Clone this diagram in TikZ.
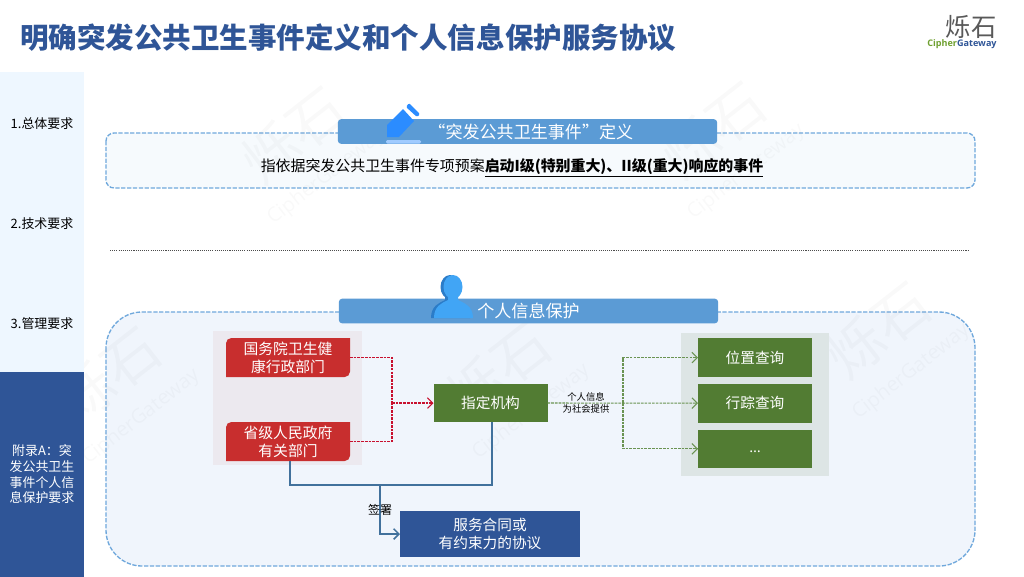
\documentclass[tikz,border=0pt]{standalone}
\usepackage{fontspec}
\setmainfont{Noto Sans CJK SC}
\newfontfamily\logofont{Open Sans}
\usepackage{xcolor}
\usepackage{tikz}
\usetikzlibrary{arrows.meta,positioning}
\definecolor{titleblue}{HTML}{2F5597}
\definecolor{barblue}{HTML}{5B9BD5}
\definecolor{dashblue}{HTML}{6FA8DC}
\definecolor{sidefill}{HTML}{EEF7FF}
\definecolor{panelfill}{HTML}{F6FAFD}
\definecolor{panelfillalt}{HTML}{F0F5FC}
\definecolor{redfill}{HTML}{C82E2E}
\definecolor{greenfill}{HTML}{527C33}
\definecolor{linkblue}{HTML}{41719C}
\definecolor{linkred}{HTML}{C8102E}
\definecolor{linkgreen}{HTML}{6A9352}
\definecolor{iconblue}{HTML}{2B8CFF}
\definecolor{personblue}{HTML}{41A5F5}
\definecolor{persondark}{HTML}{2B7CC8}
\definecolor{groupred}{HTML}{ECE9EF}
\definecolor{groupgreen}{HTML}{DDE5E5}
\definecolor{logogreen}{HTML}{6FA030}

\begin{document}
\begin{tikzpicture}[x=0.75pt, y=-0.75pt,
  every node/.style={inner sep=0pt, outer sep=0pt},
  sideitem/.style={minimum width=62.5pt, minimum height=75pt, align=center, fill=sidefill, font=\fontsize{9.7}{11.8}\selectfont},
  sidecap/.style={sideitem, text height=9pt, text depth=0pt},
  panelbox/.style={draw=dashblue, line width=1pt, dash pattern=on 3.2pt off 1.2pt},
  headbar/.style={fill=barblue, rounded corners=2.5pt, minimum width=284.5pt, minimum height=18.5pt, text=white, font=\fontsize{12.8}{14}\selectfont},
  redbox/.style={minimum width=93pt, minimum height=29.25pt, align=center, text=white, font=\fontsize{11.1}{13.5}\selectfont},
  greenbox/.style={fill=greenfill, minimum width=85.5pt, minimum height=29pt, align=center, text=white, font=\fontsize{11}{14}\selectfont},
  arr/.style={-{Straight Barb[length=4pt,width=8pt]}},
  reddash/.style={draw=linkred, line width=0.8pt, dash pattern=on 2pt off 0.8pt},
  greendash/.style={draw=linkgreen, line width=0.8pt, dash pattern=on 2pt off 0.8pt},
  bluelink/.style={draw=linkblue, line width=1.1pt},
  watermark/.style={rotate=38, align=center, text=black, text opacity=0.025, font=\fontsize{42}{36}\selectfont},
  personshape/.pic={
    \fill (453,287) ellipse [x radius=9.5, y radius=12];
    \fill (434,318) .. controls (434,306) and (442,303) .. (448,300) -- (448,296) -- (458,296) -- (458,300) .. controls (464,303) and (473,306) .. (473,318) -- cycle;
  }
]
  \useasboundingbox (0,0) rectangle (1024,576);
  \fill[white] (0,0) rectangle (1024,576);

  % panels
  \draw[panelbox, fill=panelfill, rounded corners=6pt] (106,133) rectangle (975,188);
  \draw[panelbox, fill=panelfillalt, rounded corners=27pt] (106,312) rectangle (975,566);

  % faint marks
  \foreach \wx/\wy [count=\wi] in {305/150, 725/145, 120/390, 510/385, 890/345}
    \node[watermark] (mark\wi) at (\wx,\wy) {烁石\\[-8pt]{\fontsize{15}{16}\selectfont\logofont CipherGateway}};

  \node[anchor=west, text=titleblue, font=\fontsize{21.4}{24}\bfseries\selectfont] (title) at (20,38) {明确突发公共卫生事件定义和个人信息保护服务协议};
  \node[text=black!65, font=\fontsize{19}{20}\selectfont] (logomark) at (971,27) {烁石};
  \node[font=\fontsize{6.8}{8}\logofont\bfseries\selectfont] (logotext) at (962,44) {\textcolor{logogreen}{Cipher}\textcolor{titleblue}{Gateway}};

  % sidebar
  \node[sidecap] (item1) at (42,122) {1.总体要求};
  \node[sidecap, below=0pt of item1] (item2) {2.技术要求};
  \node[sidecap, below=0pt of item2] (item3) {3.管理要求};
  \node[sideitem, below=0pt of item3, fill=titleblue, text=white, minimum height=153.5pt] (item4) {附录A：突\\发公共卫生\\事件个人信\\息保护要求};

  % first block
  \node[headbar] (defbar) at (527.5,131.5) {\hspace{5pt}“突发公共卫生事件”定义};
  \fill[iconblue] (387,137) -- (387,125) -- (403,109) -- (414,121) -- (399,137) -- cycle;
  \fill[iconblue, rounded corners=1pt] (406,107) -- (409,103) -- (420,114) -- (417,117) -- cycle;
  \fill[iconblue!45!white, rounded corners=1pt] (386,140) rectangle (421,143.5);
  \node[font=\fontsize{11.2}{14}\selectfont] (deftext) at (512,168) {指依据突发公共卫生事件专项预案\underline{\bfseries 启动I级(特别重大)、II级(重大)响应的事件}};
  \draw[black!70, line width=0.6pt, dash pattern=on 0.8pt off 0.8pt] (110,250) -- (969,250);

  % second block
  \node[headbar] (infobar) at (528.5,311) {个人信息保护};
  \pic[persondark, xshift=-2.25pt] {personshape};
  \pic[personblue] {personshape};
  \fill[groupred] (213,331) rectangle (362,465);
  \fill[groupgreen] (681,333) rectangle (829,476);

  % red boxes have two rounded corners only
  \fill[redfill] (226,377) [rounded corners=4pt] -- (226,338) -- (288,338) [sharp corners] -- (350,338) -- (350,357) [rounded corners=4pt] -- (350,377) -- (288,377) [sharp corners] -- cycle;
  \fill[redfill] (226,461) [rounded corners=4pt] -- (226,422) -- (288,422) [sharp corners] -- (350,422) -- (350,441) [rounded corners=4pt] -- (350,461) -- (288,461) [sharp corners] -- cycle;

  \node[redbox] (gov) at (288,357.5) {国务院卫生健\\康行政部门};
  \node[redbox] (prov) at (288,441.5) {省级人民政府\\有关部门};
  \node[greenbox] (org) at (490.5,403) {指定机构};
  \node[greenbox] (pos) at (755,357.5) {位置查询};
  \node[greenbox, below=5.25pt of pos] (track) {行踪查询};
  \node[greenbox, below=5.25pt of track, text height=5pt, text depth=0pt] (other) {{\logofont …}};
  \node[fill=titleblue, minimum width=135pt, minimum height=34.5pt, align=center, text=white, font=\fontsize{11}{13.5}\selectfont] (contract) at (490,534) {服务合同或\\有约束力的协议};

  \coordinate (redjoin) at (392,403);
  \coordinate (greenfork) at (623,403);
  \coordinate (bluerail) at (492,485);
  \coordinate (bluefork) at (380,485);

  \draw[reddash] (gov.east) -| (redjoin);
  \draw[reddash] (prov.east) -| (redjoin);
  \draw[reddash, arr] (redjoin) -- (org.west);
  \draw[greendash, arr] (org.east) -- (track.west);
  \draw[greendash, arr] (greenfork) |- (pos.west);
  \draw[greendash, arr] (greenfork) |- (other.west);
  \node[align=center, font=\fontsize{7}{8.5}\selectfont] (infolabel) at (586,403) {个人信息\\为社会提供};
  \draw[bluelink] ([xshift=1.5pt]prov.south) |- (bluerail) -- (org.south -| bluerail);
  \draw[bluelink, arr] (bluefork) |- (contract.west);
  \node[font=\fontsize{9}{11}\selectfont] (signlabel) at (380,510) {签署};
\end{tikzpicture}
\end{document}
